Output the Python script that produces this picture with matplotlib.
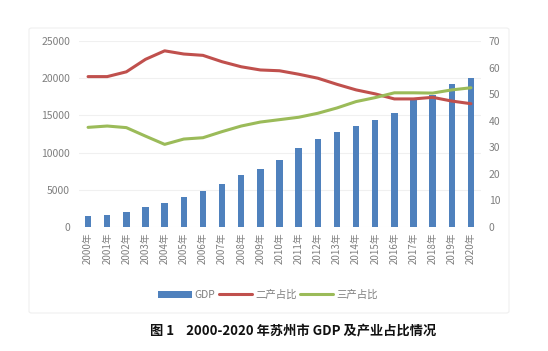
import matplotlib.pyplot as plt
from matplotlib.patches import FancyBboxPatch
import numpy as np

plt.rcParams["font.family"] = ["Noto Sans CJK SC", "DejaVu Sans"]

# Data
years = [str(y) + "年" for y in range(2000, 2021)]
gdp = [1480, 1610, 2020, 2690, 3270, 4030, 4840, 5780, 6990, 7800, 9005,
       10660, 11870, 12810, 13575, 14420, 15320, 17070, 17700, 19260, 20070]
second = [56.6, 56.6, 58.4, 63.1, 66.3, 65.1, 64.6, 62.2, 60.3, 59.1, 58.8,
          57.5, 56.0, 53.7, 51.6, 50.1, 48.2, 48.2, 48.8, 47.4, 46.4]
third = [37.5, 38.0, 37.4, 34.2, 31.1, 33.1, 33.6, 35.9, 38.0, 39.5, 40.4,
         41.3, 42.8, 44.8, 47.2, 48.7, 50.5, 50.5, 50.4, 51.6, 52.4]
left_ticks = [0, 5000, 10000, 15000, 20000, 25000]
right_ticks = [0, 10, 20, 30, 40, 50, 60, 70]

BLUE = "#4f81bd"
RED = "#c0504d"
GREEN = "#9bbb59"
TICK = "#7f7f7f"

fig = plt.figure(figsize=(5.48, 3.51), dpi=100)

# faint chart frame
frame = FancyBboxPatch((29 / 548, 1 - 313 / 351), 480 / 548, 285 / 351,
                       boxstyle="round,pad=0,rounding_size=0.005",
                       transform=fig.transFigure, facecolor="none",
                       edgecolor="#efefef", linewidth=0.8)
fig.patches.append(frame)

ax = fig.add_axes([78.5 / 548, 1 - 227 / 351, 402 / 548, 186 / 351])
x = np.arange(len(years))
bars = ax.bar(x, gdp, width=0.33, color=BLUE, label="GDP", zorder=2)
ax.set_xlim(-0.5, len(years) - 0.5)
ax.set_ylim(0, 25000)
ax.set_yticks(left_ticks)
ax.set_yticklabels([str(v) for v in left_ticks])
ax.set_xticks(x)
ax.set_xticklabels(years, rotation=90)
ax.yaxis.grid(True, color="#f0f0f0", linewidth=0.8, zorder=0)
ax.set_axisbelow(True)
for s in ax.spines.values():
    s.set_visible(False)
ax.tick_params(axis="both", length=0, labelsize=7.5, colors=TICK, pad=6)
ax.tick_params(axis="x", labelsize=7, pad=4)

ax2 = ax.twinx()
l1, = ax2.plot(x, second, color=RED, linewidth=2.2, label="二产占比",
               solid_capstyle="round")
l2, = ax2.plot(x, third, color=GREEN, linewidth=2.2, label="三产占比",
               solid_capstyle="round")
ax2.set_ylim(0, 70)
ax2.set_yticks(right_ticks)
for s in ax2.spines.values():
    s.set_visible(False)
ax2.tick_params(axis="y", length=0, labelsize=7.5, colors=TICK, pad=6)

fig.legend([bars, l1, l2], ["GDP", "二产占比", "三产占比"],
           loc="center", bbox_to_anchor=(268 / 548, 1 - 295 / 351), ncol=3,
           frameon=False, fontsize=7.5, labelcolor=TICK, handlelength=3.2,
           handletextpad=0.3, columnspacing=0.3)

fig.text(293 / 548, 1 - 331 / 351, "图 1    2000-2020 年苏州市 GDP 及产业占比情况",
         ha="center", va="center", fontsize=9.5, fontweight="bold",
         color="#111111")

fig.savefig("out.png", dpi=100)
